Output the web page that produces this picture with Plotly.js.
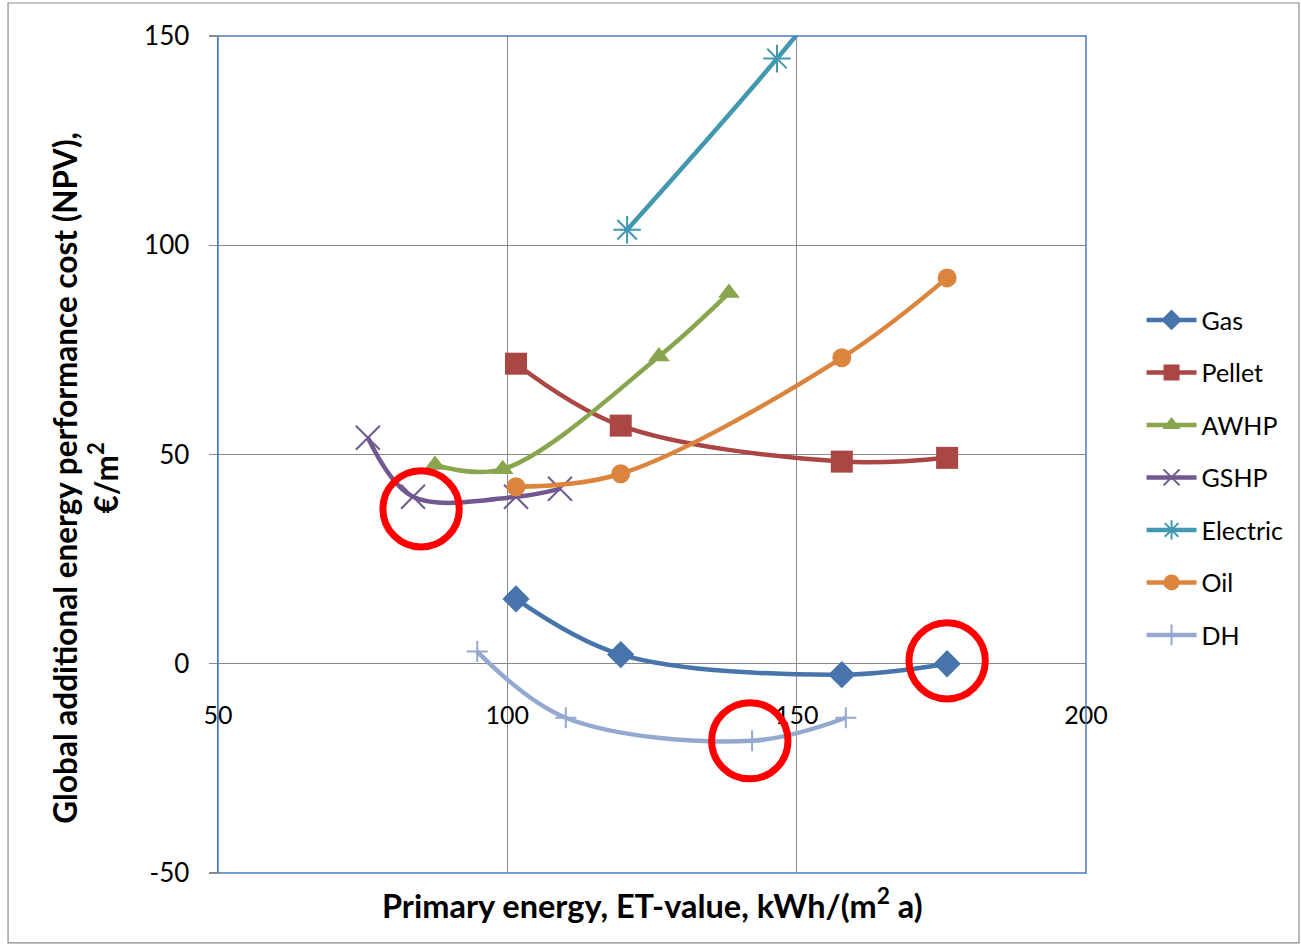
<!DOCTYPE html>
<html>
<head>
<meta charset="utf-8">
<script src="https://cdn.plot.ly/plotly-3.0.1.min.js"></script>
<style>html,body{margin:0;padding:0;background:#fff;}#chart{width:1301px;height:947px;}</style>
</head>
<body>
<div id="chart"></div>
<script>
// Data
const seriesNames = ["Gas", "Pellet", "AWHP", "GSHP", "Electric", "Oil", "DH"];
const gasX = [101.5, 119.6, 157.8, 176];
const gasY = [15.5, 2.2, -2.6, 0];
const pelletX = [101.5, 119.6, 157.8, 176];
const pelletY = [71.7, 56.9, 48.3, 49.2];
const awhpX = [87.5, 99.2, 126.2, 138.3];
const awhpY = [47.5, 46.5, 73.4, 88.6];
const gshpX = [75.9, 83.7, 101.5, 109.1];
const gshpY = [54.0, 39.9, 39.9, 41.8];
const electricX = [120.7, 146.6, 176];
const electricY = [103.7, 144.6, 195];
const oilX = [101.5, 119.6, 157.8, 176];
const oilY = [42.3, 45.4, 73.1, 92.2];
const dhX = [94.8, 110.1, 142.3, 158.5];
const dhY = [2.9, -12.9, -18.4, -12.9];
// Highlighted points (red circles)
const circleX = [85.1, 176, 141.9];
const circleY = [37.0, 0.7, -18.4];

const xTicks = [50, 100, 150, 200];
const yTicks = [-50, 0, 50, 100, 150];
const xTitle = "<b>Primary energy, ET-value, kWh/(m<sup>2</sup> a)</b>";
const yTitle = "<b>Global additional energy performance cost (NPV),<br>€/m<sup>2</sup></b>";

const colors = ["#4674AB", "#AA4643", "#89A54E", "#71588F", "#4198AF", "#DB843D", "#93A9CF"];
const symbols = ["diamond", "square", "triangle-up", "x-thin-open", "asterisk-open", "circle", "cross-thin-open"];
const sizes = [21, 22, 19, 24, 23, 19, 15];
const xs = [gasX, pelletX, awhpX, gshpX, electricX, oilX, dhX];
const ys = [gasY, pelletY, awhpY, gshpY, electricY, oilY, dhY];

const traces = seriesNames.map((n, i) => ({
  type: "scatter",
  mode: "lines+markers",
  name: n,
  x: xs[i],
  y: ys[i],
  legendgroup: n,
  line: {color: colors[i], width: 4.5, shape: "spline", smoothing: 1},
  marker: {symbol: symbols[i], size: sizes[i], color: colors[i],
           line: {color: colors[i], width: (symbols[i].indexOf("open") >= 0 ? 2 : 0)}},
  hoverinfo: "skip"
}));

const rx = 6.6, ry = 9.1;
const shapes = [
  {type: "rect", xref: "paper", yref: "paper", x0: 0, x1: 1, y0: 0, y1: 1,
   line: {color: "#4A7EBB", width: 1.5}, layer: "above"},
  {type: "rect", xref: "paper", yref: "paper", x0: -0.2419, x1: 1.2454, y0: -0.0836, y1: 1.0394,
   line: {color: "#8C8C8C", width: 1.2}}
];
circleX.forEach((cx, i) => {
  shapes.push({type: "circle", xref: "x", yref: "y",
    x0: cx - rx, x1: cx + rx, y0: circleY[i] - ry, y1: circleY[i] + ry,
    line: {color: "#FF0000", width: 7}, layer: "above"});
});

const layout = {
  width: 1301, height: 947,
  margin: {l: 218, r: 215, t: 36, b: 74},
  paper_bgcolor: "#fff", plot_bgcolor: "#fff",
  font: {family: "Lato, 'Open Sans', sans-serif", size: 24, color: "#000"},
  showlegend: true,
  legend: {x: 1.064, y: 0.688, xanchor: "left", yanchor: "top",
           font: {size: 25, family: "Lato, sans-serif"},
           tracegroupgap: 17, traceorder: "grouped", itemwidth: 50,
           bgcolor: "rgba(0,0,0,0)"},
  xaxis: {
    range: [50, 200], tickvals: xTicks, ticktext: xTicks.map(String),
    showgrid: true, gridcolor: "#8A8A8A", gridwidth: 1.3,
    zeroline: false, showline: false, ticks: "",
    anchor: "free", position: 0.2497, ticklabelstandoff: 34,
    tickfont: {size: 25},
    fixedrange: true
  },
  yaxis: {
    range: [-50, 150], tickvals: yTicks, ticktext: yTicks.map(String),
    showgrid: true, gridcolor: "#8A8A8A", gridwidth: 1.3,
    zeroline: true, zerolinecolor: "#8A8A8A", zerolinewidth: 1.3,
    showline: true, linecolor: "#4A7EBB", linewidth: 1.5,
    ticks: "outside", ticklen: 8, tickcolor: "#8A8A8A", tickwidth: 1.3,
    ticklabelstandoff: 14,
    tickfont: {size: 26},
    fixedrange: true
  },
  annotations: [
    {text: xTitle, xref: "paper", yref: "paper", x: 0.5, y: -0.036,
     xanchor: "center", yanchor: "middle", showarrow: false,
     font: {size: 32.5, family: "Lato, sans-serif"}},
    {text: yTitle, xref: "paper", yref: "paper", x: -0.153, y: 0.4725,
     xanchor: "center", yanchor: "middle", showarrow: false, textangle: -90,
     font: {size: 31.5, family: "Lato, sans-serif"}}
  ],
  shapes: shapes
};

Plotly.newPlot("chart", traces, layout, {displayModeBar: false, staticPlot: true});
</script>
</body>
</html>
